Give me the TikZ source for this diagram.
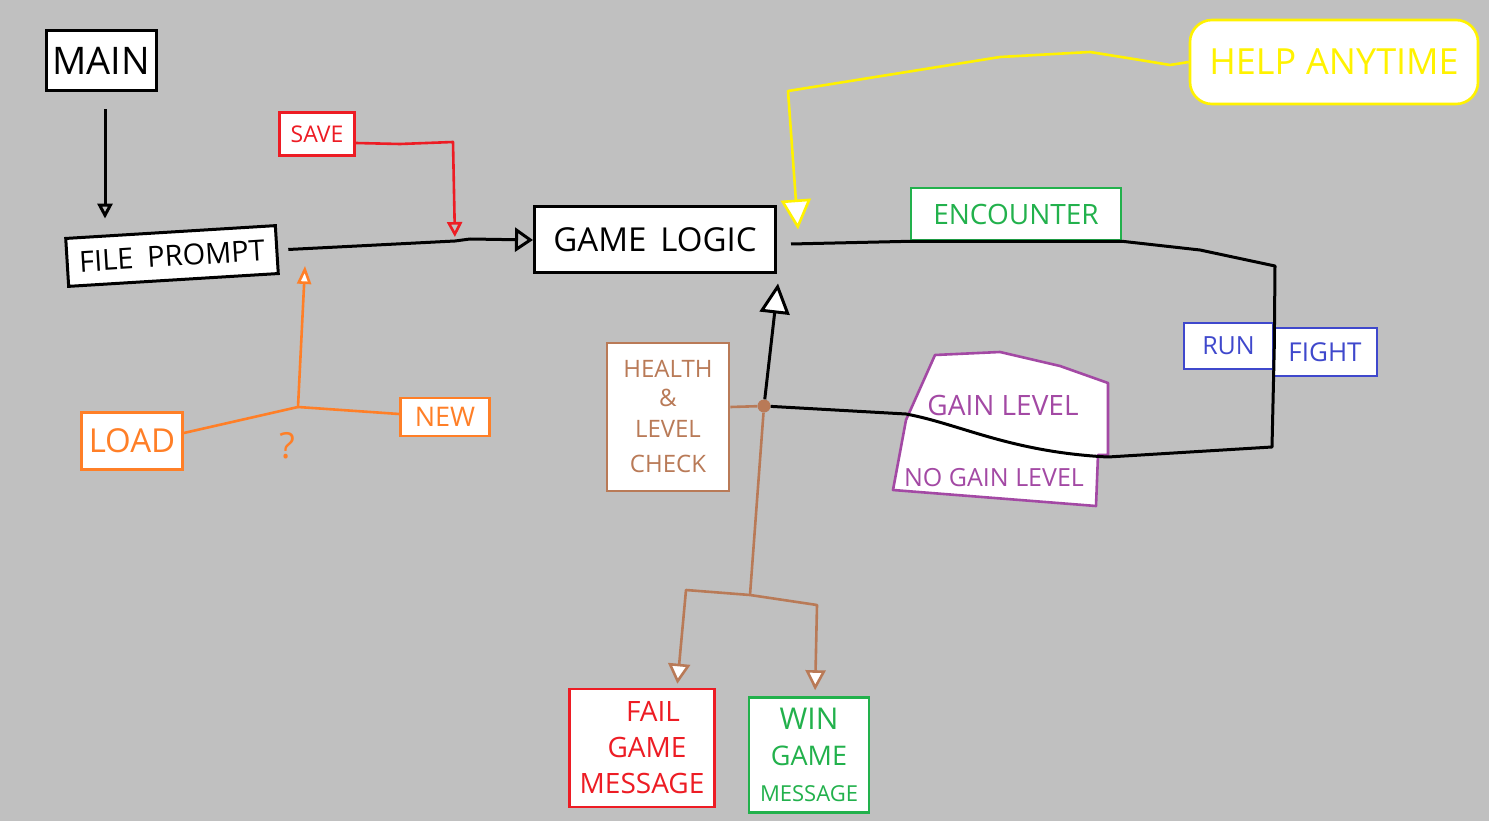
\documentclass[tikz,border=0pt]{standalone}
\usepackage{fontspec}
\setmainfont{Open Sans}
\usetikzlibrary{arrows.meta,calc}
\definecolor{bgc}{HTML}{C0C0C0}
\definecolor{cred}{HTML}{ED1C24}
\definecolor{corange}{HTML}{FF7F27}
\definecolor{cgreen}{HTML}{22B14C}
\definecolor{cblue}{HTML}{3F48CC}
\definecolor{cpurple}{HTML}{A349A4}
\definecolor{cyellow}{HTML}{FFF200}
\definecolor{cbrown}{HTML}{B97A57}
\newcommand\fsz[2]{\fontsize{#1}{#2}\selectfont}
\begin{document}
\begin{tikzpicture}[x=1pt,y=-1pt,
  box/.style={draw=#1, text=#1, fill=white, line width=3pt, inner sep=0pt, align=center},
  box/.default=black,
  blk/.style={draw=black, line width=3pt, line join=round},
  col/.style={draw=#1, line width=2.6pt, line join=round},
  headopen/.style={-{Triangle[open, length=#1, width=#1]}},
  headwhite/.style={-{Triangle[fill=white, length=#1, width=#1]}},
]
\fill[bgc] (0,0) rectangle (1489,821);
\useasboundingbox (0,0) rectangle (1489,821);

% nodes
\node[box, minimum width=110pt, minimum height=60pt, font=\fsz{38}{40}] (main) at (101,61) {MAIN};
\node[box, minimum width=210pt, minimum height=48pt, rotate=3.5, font=\fsz{29}{32}] (fileprompt) at (172,256) {FILE\hspace{14pt}PROMPT};
\node[box=cred, line width=2.6pt, minimum width=75pt, minimum height=43pt, font=\fsz{23}{26}] (save) at (317,134) {SAVE};
\node[box, minimum width=241pt, minimum height=66pt, font=\fsz{33}{36}] (game) at (655,240) {GAME\hspace{14pt}LOGIC};
\node[box=cyellow, line width=2.6pt, rounded corners=22pt, minimum width=288pt, minimum height=84pt, font=\fsz{36}{40}] (help) at (1334,62) {HELP\hspace{10pt}ANYTIME};
\node[box=cgreen, line width=2.6pt, minimum width=210pt, minimum height=52pt, font=\fsz{28}{30}] (encounter) at (1016,214) {ENCOUNTER};
\node[box=cblue, line width=2.6pt, minimum width=89pt, minimum height=46pt, font=\fsz{25}{28}] (run) at (1228.5,346) {RUN};
\node[box=cblue, line width=2.6pt, minimum width=104pt, minimum height=48pt, font=\fsz{26}{28}] (fight) at (1325,352) {FIGHT};
\node[box=cbrown, line width=2.6pt, minimum width=122pt, minimum height=148pt, font=\fsz{24}{31}] (health) at (668,417) {HEALTH\\[-2pt]\&\\LEVEL\\[4pt]CHECK};
\fill[white, draw=cpurple, line width=2.6pt, line join=round]
  (935,355) -- (1000,352) -- (1060,366) -- (1108,383) -- (1108,455) -- (1098,455) -- (1096,506) -- (893,490) -- (906,420) -- cycle;
\node[text=cpurple, font=\fsz{28}{30}, inner sep=0pt] (gain) at (1003,405) {GAIN LEVEL};
\node[text=cpurple, font=\fsz{25}{28}, inner sep=0pt] (nogain) at (994,478) {NO GAIN LEVEL};
\node[box=cred, line width=2.6pt, minimum width=145pt, minimum height=118pt, font=\fsz{28}{36}] (fail) at (642,748) {\hspace{22pt}FAIL\\\hspace{10pt}GAME\\MESSAGE};
\node[box=cgreen, line width=2.6pt, minimum width=120pt, minimum height=115pt, font=\fsz{22}{36}] (win) at (809,755) {{\fsz{30}{36}WIN}\\{\fsz{27}{36}GAME}\\{\fsz{22}{36}MESSAGE}};
\node[box=corange, line width=2.6pt, minimum width=101pt, minimum height=57pt, font=\fsz{33}{36}] (load) at (132,441) {LOAD};
\node[box=corange, line width=2.6pt, minimum width=89pt, minimum height=38pt, font=\fsz{27}{30}] (new) at (445,417) {NEW};
\node[text=corange, font=\fsz{36}{38}, inner sep=0pt] (qmark) at (287,446) {?};
\node[circle, fill=cbrown, inner sep=0pt, minimum size=13pt] (dot) at (764,406) {};

% coordinates
\coordinate (savehit) at (455,241);
\coordinate (ytip) at ([xshift=21pt,yshift=-24pt]game.north east);
\coordinate (c1) at (1275,266);
\coordinate (c2) at (1272,447);
\coordinate (oj) at (298,407);
\coordinate (fpin) at (305,266);
\coordinate (bj) at (750,595);

% black connectors
\draw[blk, headopen=15pt, shorten <=17pt, shorten >=12pt] ([xshift=4pt]main.south) -- ([xshift=4pt]main.south |- fileprompt.north);
\draw[blk, -{Triangle[open, length=18pt, width=24pt]}] ([xshift=10pt]fileprompt.east) -- (savehit) -- (470,239) -- (game.west);
\draw[blk] ([xshift=14pt,yshift=-4pt]game.east) -- (encounter.south west) -- (encounter.south east)
  -- (1200,250) -- (c1) -- (run.east) -- (c2) -- (1108,457)
  .. controls (1010,452) and (960,424) .. (906,414) -- (dot);
\draw[blk, headwhite=30pt] (dot) -- ([yshift=-9pt,xshift=1pt]game.south east);

% red
\draw[col=cred, headopen=15pt, shorten >=4pt] ([yshift=-9pt]save.east) -- (400,144) -- (453,142) -- (savehit);
% yellow
\draw[col=cyellow, -{Triangle[fill=white, length=30pt, width=30pt]}] (help.west) -- (1170,65) -- (1140,60) -- (1090,52) -- (1000,57) -- (788,91) -- (ytip);
% orange
\draw[col=corange] ([yshift=8pt]load.east) -- (oj);
\draw[col=corange] ([yshift=3pt]new.west) -- (oj);
\draw[col=corange, -{Triangle[fill=white, length=18pt, width=14pt]}] (oj) -- (fpin);
% brown
\draw[col=cbrown] ([yshift=10pt]health.east) -- (dot);
\draw[col=cbrown] (dot) -- (bj);
\draw[col=cbrown, -{Triangle[fill=white, length=20pt, width=22pt]}, shorten >=4pt] (bj) -- (686,590) -- ([xshift=35pt]fail.north);
\draw[col=cbrown, -{Triangle[fill=white, length=20pt, width=20pt]}, shorten >=6pt] (bj) -- (817,605) -- ([xshift=6pt]win.north);
\end{tikzpicture}
\end{document}
